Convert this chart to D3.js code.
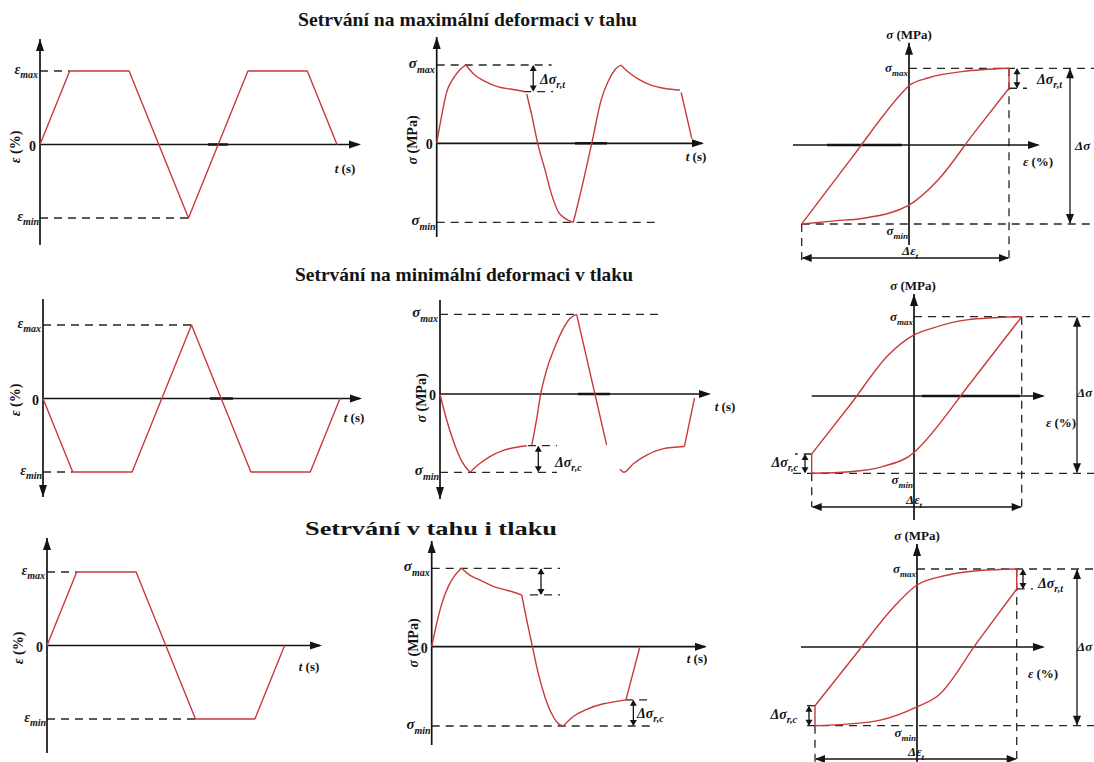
<!DOCTYPE html>
<html>
<head>
<meta charset="utf-8">
<script src="https://cdn.jsdelivr.net/npm/d3@7"></script>
<style>
  body { margin: 0; background: #fff; }
  svg { display: block; }
  text { font-family: "Liberation Serif", "Times New Roman", serif; }
</style>
</head>
<body>
<svg id="chart" width="1094" height="762"></svg>
<script>
// ---------------- data ----------------
const rowTitles = [
  "Setrvání na maximální deformaci v tahu",
  "Setrvání na minimální deformaci v tlaku",
  "Setrvání v tahu i tlaku"
];

// Strain histories [t, ε/εmax], t in ramp units
const strainMaxHold  = [[0, 0], [1, 1], [3, 1], [5, -1], [7, 1], [9, 1], [10, 0]];
const strainMinHold  = [[0, 0], [1, -1], [3, -1], [5, 1], [7, -1], [9, -1], [10, 0]];
const strainBothHold = [[0, 0], [1, 1], [3, 1], [5, -1], [7, -1], [8, 0]];

// Stress responses [t, σ/σmax], one array per drawn segment
const stressMaxHold = [
  [[0, 0], [0.17, 0.36], [0.34, 0.66], [0.56, 0.83], [0.78, 0.94], [0.98, 1]],
  [[0.98, 1], [1.29, 0.87], [1.63, 0.79], [2.07, 0.72], [2.53, 0.69], [2.97, 0.66]],
  [[3.03, 0.63], [3.2, 0.36], [3.4, 0], [3.65, -0.34], [3.87, -0.65], [4.1, -0.87], [4.32, -0.95], [4.6, -1]],
  [[4.6, -1], [4.88, -0.57], [5.22, 0], [5.55, 0.57], [5.77, 0.79], [6.0, 0.94], [6.2, 1]],
  [[6.2, 1], [6.45, 0.91], [6.79, 0.82], [7.24, 0.74], [7.69, 0.7], [8.19, 0.68]],
  [[8.23, 0.65], [8.59, 0.06]]
];
const stressMinHold = [
  [[0, 0], [0.2, -0.3], [0.45, -0.6], [0.72, -0.85], [1.01, -1]],
  [[1.01, -1], [1.35, -0.885], [1.68, -0.8], [2.13, -0.72], [2.58, -0.68], [2.92, -0.66]],
  [[3.09, -0.65], [3.25, -0.33], [3.39, 0], [3.59, 0.3], [3.87, 0.59], [4.15, 0.82], [4.38, 0.95], [4.6, 1]],
  [[4.6, 1], [5.61, -0.65]],
  [[6.06, -0.96], [6.19, -1], [6.51, -0.89], [6.96, -0.78], [7.5, -0.7], [8.23, -0.67]],
  [[8.23, -0.67], [8.57, -0.05]]
];
const stressBothHold = [
  [[0, 0], [0.17, 0.3], [0.34, 0.55], [0.56, 0.77], [0.78, 0.91], [1.01, 1]],
  [[1.01, 1], [1.29, 0.91], [1.63, 0.85], [2.07, 0.77], [2.53, 0.72], [3.03, 0.66]],
  [[3.03, 0.66], [3.2, 0.34], [3.39, 0], [3.59, -0.34], [3.81, -0.63], [4.09, -0.88], [4.26, -0.97], [4.43, -1]],
  [[4.43, -1], [4.77, -0.88], [5.22, -0.79], [5.78, -0.72], [6.23, -0.69], [6.54, -0.67]],
  [[6.54, -0.67], [7.01, 0]]
];

// Hysteresis loops [ε/εmax, σ/σmax]; two-point vertical segments are relaxation drops
const loopMaxHold = [
  [[-1, -1], [-0.53, -0.156], [-0.068, 0.674], [0, 0.773], [0.19, 0.874], [0.53, 0.956], [1, 1]],
  [[1, 1], [1, 0.74]],
  [[-1, -1], [-0.69, -0.96], [-0.44, -0.93], [0, -0.76], [0.29, -0.443], [0.645, 0.148], [1, 0.74]]
];
const loopMinHold = [
  [[-1, -0.75], [-0.625, -0.117], [-0.25, 0.517], [0, 0.77], [0.18, 0.86], [0.49, 0.96], [1, 1]],
  [[-1, -1], [-0.63, -0.98], [-0.3, -0.91], [0, -0.73], [0.07, -0.634], [0.535, 0.183], [1, 1]],
  [[-1, -1], [-1, -0.75]]
];
const loopBothHold = [
  [[-1, -0.746], [-0.615, -0.118], [-0.23, 0.51], [0, 0.795], [0.3, 0.92], [0.63, 0.98], [1, 1]],
  [[1, 1], [1, 0.744]],
  [[-1, -1], [-0.69, -0.98], [-0.36, -0.93], [0, -0.76], [0.21, -0.62], [0.605, 0.062], [1, 0.744]],
  [[-1, -1], [-1, -0.746]]
];

// ---------------- layout ----------------
const UNIT = 29.7;              // px per time unit
const RED = "#c83a3a", INK = "#141414", DASH = "8,6";
// [start x, baseline y, drawn width]
const titlePos = [[298, 26, 339], [295, 281, 338], [305, 535, 252]];

const strainLayout = [
  { x0: 40, y: [218, 71],  top: 39,  bottom: 245, up: true,  tip: 361, yTitle: [15, 147], tTitle: [345, 173], thick: [208, 228] },
  { x0: 43, y: [472, 325], top: 299, bottom: 497, up: false, tip: 362, yTitle: [15, 400], tTitle: [354, 422], thick: [210, 233] },
  { x0: 47, y: [719, 572], top: 538, bottom: 753, up: true,  tip: 322, yTitle: [18, 648], tTitle: [309, 671], thick: null }
];
const stressLayout = [
  { x0: 436.7, y: [222.3, 143.3, 65], top: 37, bottom: 237, up: true, tip: 704, maxTo: 3.87, minTo: 7.42,
    relax: [{ seg: 1, from: 2.91, to: 3.92, at: 3.25, lab: [540, 84], sub: "r,t" }],
    yTitle: [412, 140], tTitle: [696, 161], thick: [575, 607] },
  { x0: 440, y: [472.3, 394, 314.3], top: 300, bottom: 499, up: false, tip: 711, maxTo: 7.5, minTo: 3.94,
    relax: [{ seg: 1, from: 2.96, to: 3.94, at: 3.31, lab: [555, 467], sub: "r,c" }],
    yTitle: [421, 398], tTitle: [725, 411], thick: [578, 610] },
  { x0: 431.7, y: [726, 646.7, 568.3], top: 541, bottom: 745, up: true, tip: 707, maxTo: 4.32, minTo: 7.41,
    relax: [{ seg: 1, from: 3.31, to: 4.32, at: 3.68, lab: null, sub: "" },
            { seg: 3, from: 6.51, to: 7.41, at: 6.79, lab: [637, 718], sub: "r,c" }],
    yTitle: [413, 643], tTitle: [697, 663], thick: null }
];
const loopLayout = [
  { x: [801.7, 909, 1009], y: [224, 145, 68.3], top: 42.7, bottom: 245, axisFrom: 793, tip: 1040,
    minFrom: 801.7, vBottom: 262, dEpsY: 258, dSigX: 1070,
    sigTitle: [909, 39], epsTitle: [1038, 166], dEpsLab: [910, 255], dSigLab: [1075, 150],
    relax: [{ at: 1017, tick: 1027, lab: [1037, 84], anchor: "start", sub: "r,t" }], thick: [827, 902] },
  { x: [811.7, 914, 1021.7], y: [473.3, 396, 316.7], top: 294, bottom: 520, axisFrom: 811.7, tip: 1045,
    minFrom: 793, vBottom: 507, dEpsY: 507, dSigX: 1077,
    sigTitle: [913, 290], epsTitle: [1061, 427], dEpsLab: [914, 504], dSigLab: [1077, 397],
    relax: [{ at: 805, tick: 795, lab: [798, 467], anchor: "end", sub: "r,c" }], thick: [922, 1020] },
  { x: [815, 917, 1016.7], y: [725.7, 647, 569], top: 544, bottom: 762, axisFrom: 801, tip: 1045,
    minFrom: 807, vBottom: 762, dEpsY: 759, dSigX: 1077,
    sigTitle: [917, 540], epsTitle: [1043, 678], dEpsLab: [916, 756], dSigLab: [1077, 651],
    relax: [{ at: 1023, tick: 1033, lab: [1038, 588], anchor: "start", sub: "r,t" },
            { at: 809, tick: 802, lab: [797, 719], anchor: "end", sub: "r,c" }], thick: null }
];

// ---------------- drawing helpers ----------------
const svg = d3.select("#chart");

function tri(g, x, y, dir, len, half) {
  const p = {
    up:    [[x, y], [x - half, y + len], [x + half, y + len]],
    down:  [[x, y], [x - half, y - len], [x + half, y - len]],
    right: [[x, y], [x - len, y - half], [x - len, y + half]],
    left:  [[x, y], [x + len, y - half], [x + len, y + half]]
  }[dir];
  g.append("path").attr("d", "M" + p.join("L") + "Z").attr("fill", INK);
}
function seg(g, x1, y1, x2, y2, w) {
  return g.append("line").attr("x1", x1).attr("y1", y1).attr("x2", x2).attr("y2", y2)
    .attr("stroke", INK).attr("stroke-width", w || 1.6);
}
function dashed(g, x1, y1, x2, y2) {
  return seg(g, x1, y1, x2, y2, 1.3).attr("stroke", "#262626").attr("stroke-dasharray", DASH);
}
function dimV(g, x, ya, yb, len, half) {
  const a = Math.min(ya, yb), b = Math.max(ya, yb);
  seg(g, x, a + 1, x, b - 1, 1.3);
  tri(g, x, a, "up", len, half);
  tri(g, x, b, "down", len, half);
}
function dimH(g, y, xa, xb, len, half) {
  seg(g, xa + 1, y, xb - 1, y, 1.3);
  tri(g, xa, y, "left", len, half);
  tri(g, xb, y, "right", len, half);
}
function sym(g, x, y, main, sub, o) {
  o = o || {};
  const size = o.size || 14;
  const t = g.append("text").attr("x", x).attr("y", y)
    .attr("text-anchor", o.anchor || "start")
    .attr("font-size", size).attr("font-weight", "bold").attr("font-style", "italic").attr("fill", INK);
  t.append("tspan").text(main);
  if (sub) t.append("tspan").attr("dy", Math.round(size * 0.3)).attr("font-size", o.sub || 10).text(sub);
  return t;
}
function axisTitle(g, x, y, symbol, unit, size, rotate) {
  const t = g.append("text")
    .attr("transform", `translate(${x},${y})` + (rotate ? " rotate(-90)" : ""))
    .attr("text-anchor", "middle").attr("dominant-baseline", rotate ? "central" : "auto")
    .attr("font-size", size).attr("font-weight", "bold").attr("fill", INK);
  t.append("tspan").attr("font-style", "italic").text(symbol);
  t.append("tspan").text(" (" + unit + ")");
}
function plainBold(g, x, y, txt, size, anchor) {
  g.append("text").attr("x", x).attr("y", y).attr("text-anchor", anchor || "end")
    .attr("font-size", size).attr("font-weight", "bold").attr("fill", INK).text(txt);
}
function timeAxes(g, L, yZero) {
  seg(g, L.x0, L.top, L.x0, L.bottom, 1.7);
  if (L.up) tri(g, L.x0, L.top, "up", 12, 4); else tri(g, L.x0, L.bottom, "down", 12, 4);
  seg(g, L.x0, yZero, L.tip - 2, yZero, 1.7);
  tri(g, L.tip, yZero, "right", 12, 4);
  if (L.thick) seg(g, L.thick[0], yZero, L.thick[1], yZero, 2.5);
}

// ---------------- row titles ----------------
rowTitles.forEach((txt, i) => {
  svg.append("text").attr("x", titlePos[i][0]).attr("y", titlePos[i][1])
    .attr("textLength", titlePos[i][2]).attr("lengthAdjust", "spacingAndGlyphs")
    .attr("font-size", 19).attr("font-weight", "bold")
    .attr("fill", INK).text(txt);
});

// ---------------- strain histories ----------------
const strainData = [strainMaxHold, strainMinHold, strainBothHold];
strainLayout.forEach((L, i) => {
  const data = strainData[i];
  const g = svg.append("g");
  const x = d3.scaleLinear().domain([0, 1]).range([L.x0, L.x0 + UNIT]);
  const y = d3.scaleLinear().domain([-1, 1]).range(L.y);

  [1, -1].forEach(v => {
    const tReach = data.find(d => d[1] === v)[0];
    dashed(g, x(0), y(v), x(tReach), y(v));
  });
  timeAxes(g, L, y(0));

  g.append("path").datum(data)
    .attr("d", d3.line().x(d => x(d[0])).y(d => y(d[1])))
    .attr("fill", "none").attr("stroke", RED).attr("stroke-width", 1.4).attr("stroke-linejoin", "round");

  sym(g, x(0) - 2, y(1) + 3, "ε", "max", { anchor: "end", size: 14, sub: 10 });
  sym(g, x(0) - 1, y(-1) + 3, "ε", "min", { anchor: "end", size: 14, sub: 10 });
  plainBold(g, x(0) - 4, y(0) + 6, "0", 14);
  axisTitle(g, L.yTitle[0], L.yTitle[1], "ε", "%", 14, true);
  axisTitle(g, L.tTitle[0], L.tTitle[1], "t", "s", 13, false);
});

// ---------------- stress histories ----------------
const stressData = [stressMaxHold, stressMinHold, stressBothHold];
stressLayout.forEach((L, i) => {
  const data = stressData[i];
  const g = svg.append("g");
  const x = d3.scaleLinear().domain([0, 1]).range([L.x0, L.x0 + UNIT]);
  const y = d3.scaleLinear().domain([-1, 0, 1]).range(L.y);

  dashed(g, x(0), y(1), x(L.maxTo), y(1));
  dashed(g, x(0), y(-1), x(L.minTo), y(-1));
  L.relax.forEach(r => {
    const level = data[r.seg][data[r.seg].length - 1][1];
    const peak = Math.sign(level);
    dashed(g, x(r.from), y(level), x(r.to), y(level));
    dimV(g, x(r.at), y(peak), y(level), 6, 3.5);
    if (r.lab) sym(g, r.lab[0], r.lab[1], "Δσ", r.sub, { size: 14, sub: 10 });
  });
  timeAxes(g, L, y(0));

  const line = d3.line().x(d => x(d[0])).y(d => y(d[1])).curve(d3.curveMonotoneX);
  g.selectAll("path.stress").data(data).join("path").attr("class", "stress")
    .attr("d", line).attr("fill", "none").attr("stroke", RED).attr("stroke-width", 1.4);

  sym(g, x(0) - 2, y(1) + 3, "σ", "max", { anchor: "end", size: 15, sub: 10 });
  sym(g, x(0) - 1, y(-1) + 3, "σ", "min", { anchor: "end", size: 15, sub: 10 });
  plainBold(g, x(0) - 4, y(0) + 6, "0", 14);
  axisTitle(g, L.yTitle[0], L.yTitle[1], "σ", "MPa", 14, true);
  axisTitle(g, L.tTitle[0], L.tTitle[1], "t", "s", 13, false);
});

// ---------------- hysteresis loops ----------------
const loopData = [loopMaxHold, loopMinHold, loopBothHold];
loopLayout.forEach((L, i) => {
  const data = loopData[i];
  const g = svg.append("g");
  const x = d3.scaleLinear().domain([-1, 0, 1]).range(L.x);
  const y = d3.scaleLinear().domain([-1, 0, 1]).range(L.y);

  // reference lines
  dashed(g, x(0), y(1), 1094, y(1));
  dashed(g, L.minFrom, y(-1), 1094, y(-1));
  dashed(g, x(1), y(1), x(1), L.vBottom);
  dashed(g, x(-1), y(-1), x(-1), L.vBottom);

  // axes
  seg(g, x(0), L.top, x(0), L.bottom, 1.7);
  tri(g, x(0), L.top, "up", 12, 4);
  seg(g, L.axisFrom, y(0), L.tip - 2, y(0), 1.7);
  tri(g, L.tip, y(0), "right", 12, 4);
  if (L.thick) seg(g, L.thick[0], y(0), L.thick[1], y(0), 2.5);

  // relaxation annotations
  const drops = data.filter(s => s.length === 2 && s[0][0] === s[1][0]);
  drops.forEach((s, k) => {
    const r = L.relax[k];
    const eps = s[0][0], peak = s[0][1], level = s[1][1];
    dashed(g, x(eps), y(level), r.tick, y(level));
    dimV(g, r.at, y(peak), y(level), 6, 3.5);
    sym(g, r.lab[0], r.lab[1], "Δσ", r.sub, { anchor: r.anchor, size: 14, sub: 10 });
  });

  // ranges
  dimV(g, L.dSigX, y(1), y(-1), 10, 4);
  dimH(g, L.dEpsY, x(-1), x(1), 10, 4);
  sym(g, L.dSigLab[0], L.dSigLab[1], "Δσ", "", { size: 13 });
  sym(g, L.dEpsLab[0], L.dEpsLab[1], "Δε", "t", { anchor: "middle", size: 13, sub: 9 });

  const line = d3.line().x(d => x(d[0])).y(d => y(d[1])).curve(d3.curveMonotoneX);
  g.selectAll("path.loop").data(data).join("path").attr("class", "loop")
    .attr("d", line).attr("fill", "none").attr("stroke", RED).attr("stroke-width", 1.4);

  sym(g, x(0) - 1, y(1) + 4, "σ", "max", { anchor: "end", size: 13, sub: 9 });
  sym(g, x(0) - 1, y(-1) + 11, "σ", "min", { anchor: "end", size: 13, sub: 9 });
  axisTitle(g, L.sigTitle[0], L.sigTitle[1], "σ", "MPa", 13, false);
  axisTitle(g, L.epsTitle[0], L.epsTitle[1], "ε", "%", 13, false);
});
</script>
</body>
</html>
